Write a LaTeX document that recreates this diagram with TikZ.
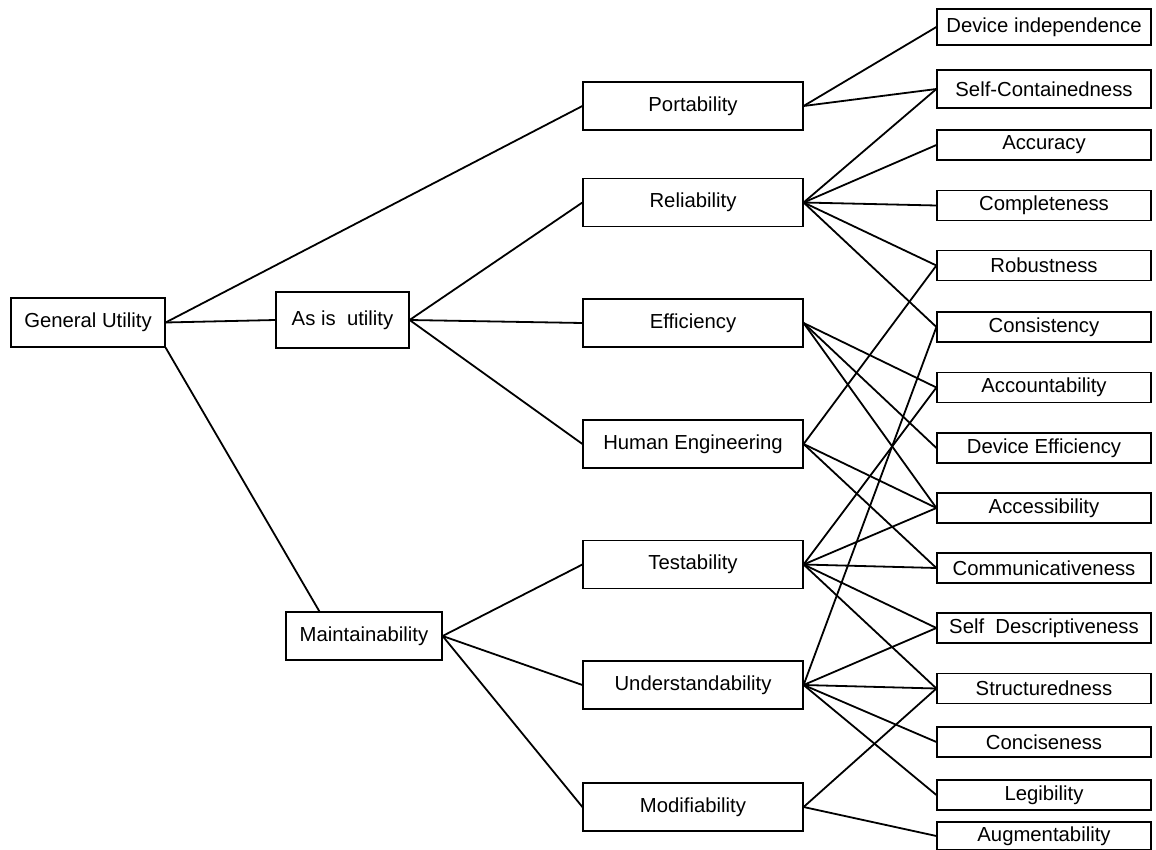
\documentclass[tikz,border=0pt]{standalone}
\usepackage{fontspec}
\setmainfont{Liberation Sans}
\usetikzlibrary{calc}
\begin{document}
\begin{tikzpicture}[x=1pt,y=-1pt,
  box/.style={draw,line width=1.2pt,inner sep=0pt,font=\fontsize{20.3}{22}\selectfont},
  topbox/.style={box,minimum height=49pt},
  midbox/.style={box,minimum width=220pt,minimum height=48pt},
  leafbox/.style={box,minimum width=214pt,minimum height=30pt},
  link/.style={line width=1.8pt}]
\useasboundingbox (0,0) rectangle (1156,850);

% first two levels
\node[topbox,minimum width=154pt] (gu) at (88,322.5) {General Utility};
\node[topbox,minimum width=133pt,minimum height=56pt] (asis) at (342.5,320) {As is~~utility};
\node[topbox,minimum width=156pt,minimum height=48pt] (mt) at (364,636) {Maintainability};

% criteria
\node[midbox] (port) at (693,106) {Portability};
\node[midbox] (rel) at (693,202.5) {Reliability};
\node[midbox] (eff) at (693,323) {Efficiency};
\node[midbox] (he) at (693,444) {Human Engineering};
\node[midbox] (test) at (693,564.5) {Testability};
\node[midbox] (und) at (693,685) {Understandability};
\node[midbox] (mod) at (693,807) {Modifiability};

% primitive characteristics
\node[leafbox,minimum height=36pt] (devind) at (1044,27) {Device independence};
\node[leafbox,minimum height=38pt] (selfc) at (1044,89) {Self-Containedness};
\node[leafbox] (acc) at (1044,145) {Accuracy};
\node[leafbox] (comp) at (1044,205.5) {Completeness};
\node[leafbox] (rob) at (1044,265.5) {Robustness};
\node[leafbox] (cons) at (1044,327) {Consistency};
\node[leafbox] (acct) at (1044,387.5) {Accountability};
\node[leafbox] (deveff) at (1044,448) {Device Efficiency};
\node[leafbox] (access) at (1044,508) {Accessibility};
\node[leafbox] (comm) at (1044,568) {Communicativeness};
\node[leafbox] (selfd) at (1044,628) {Self~~Descriptiveness};
\node[leafbox] (struct) at (1044,688.5) {Structuredness};
\node[leafbox] (conc) at (1044,742) {Conciseness};
\node[leafbox] (leg) at (1044,795) {Legibility};
\node[leafbox,minimum height=28pt] (aug) at (1044,836) {Augmentability};

% tree links
\draw[link] (gu.east) -- (port.west);
\draw[link] (gu.east) -- (asis.west);
\draw[link] (gu.south east) -- ($(mt.north west)+(34,0)$);
\foreach \t in {rel,eff,he} \draw[link] (asis.east) -- (\t.west);
\foreach \t in {test,und,mod} \draw[link] (mt.east) -- (\t.west);

% criteria to characteristics
\foreach \t in {devind,selfc} \draw[link] (port.east) -- (\t.west);
\foreach \t in {selfc,acc,comp,rob,cons} \draw[link] (rel.east) -- (\t.west);
\foreach \t in {acct,deveff,access} \draw[link] (eff.east) -- (\t.west);
\foreach \t in {rob,access,comm} \draw[link] (he.east) -- (\t.west);
\foreach \t in {acct,access,comm,selfd,struct} \draw[link] (test.east) -- (\t.west);
\foreach \t in {cons,selfd,struct,conc,leg} \draw[link] (und.east) -- (\t.west);
\foreach \t in {struct,aug} \draw[link] (mod.east) -- (\t.west);
\end{tikzpicture}
\end{document}
